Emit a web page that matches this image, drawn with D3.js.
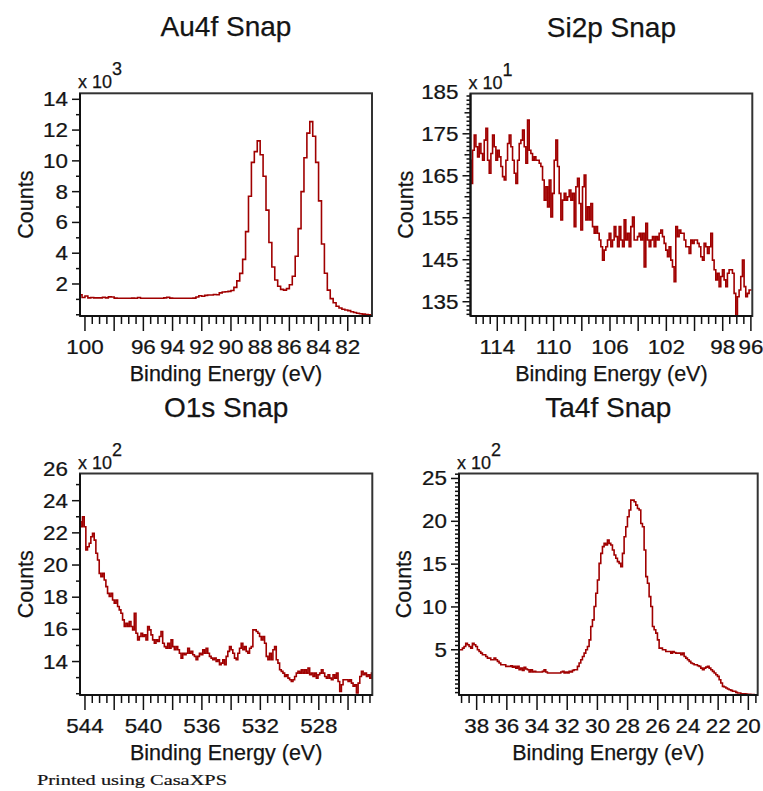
<!DOCTYPE html>
<html>
<head>
<meta charset="utf-8">
<script src="https://cdn.jsdelivr.net/npm/d3@7/dist/d3.min.js"></script>
<style>
  html, body { margin: 0; padding: 0; background: #fff; }
  svg { display: block; }
  text { font-family: "Liberation Sans", Arial, sans-serif; fill: #141414; stroke: #141414; stroke-width: 0.25px; }
</style>
</head>
<body>
<svg id="chart" width="763" height="791"></svg>
<script>
// ---- Au 4f snapshot ----
const au4fEnergyRange = [100.3, 80.3];
const au4fCounts = [
  1300,1120,1220,1100,1120,1100,1100,1100,1140,1100,
  1160,1150,1080,1070,1070,1070,1070,1070,1080,1070,
  1120,1070,1070,1070,1070,1070,1070,1070,1070,1100,
  1140,1080,1070,1070,1070,1070,1070,1070,1070,1080,
  1150,1240,1200,1260,1280,1280,1320,1300,1420,1480,
  1500,1520,1580,1780,2200,2690,3600,5400,7700,9900,
  10600,11300,10400,9000,6800,4700,3100,2260,1850,1650,
  1600,1700,1950,2500,3800,5600,8000,10200,11800,12550,
  11600,9900,7400,4600,2700,1600,1050,780,550,440,
  360,310,270,200,150,100,70,40,20,0,-20
];
const au4fXTicks = [100, 96, 94, 92, 90, 88, 86, 84, 82];
const au4fYTicks = [2, 4, 6, 8, 10, 12, 14];

// ---- Si 2p snapshot ----
const si2pEnergyRange = [115.93, 95.95];
const si2pCounts = [
  1687,1632,1711,1747,1719,1695,1727,1703,1687,1735,
  1763,1687,1656,1703,1747,1719,1687,1711,1695,1672,
  1648,1640,1687,1727,1747,1719,1687,1656,1632,1687,
  1727,1735,1759,1719,1680,1783,1711,1703,1687,1695,
  1687,1687,1680,1672,1640,1592,1624,1576,1640,1552,
  1608,1687,1735,1672,1608,1545,1592,1608,1592,1600,
  1616,1592,1608,1529,1624,1644,1584,1521,1624,1652,
  1545,1576,1545,1584,1529,1513,1529,1513,1497,1481,
  1449,1473,1481,1497,1513,1481,1497,1529,1505,1481,
  1529,1497,1481,1545,1497,1513,1481,1529,1552,1497,
  1497,1505,1513,1497,1513,1433,1537,1497,1481,1497,
  1505,1481,1505,1497,1513,1521,1505,1489,1473,1457,
  1481,1449,1433,1398,1529,1505,1521,1513,1513,1497,
  1481,1481,1465,1497,1489,1497,1497,1489,1481,1457,
  1449,1489,1481,1465,1481,1513,1449,1426,1402,1418,
  1386,1410,1426,1402,1386,1418,1426,1426,1418,1370,
  1314,1362,1378,1410,1449,1386,1362,1370,1378,1378
];
const si2pXTicks = [114, 110, 106, 102, 98, 96];
const si2pYTicks = [135, 145, 155, 165, 175, 185];

// ---- O 1s snapshot ----
const o1sEnergyRange = [544.34, 524.34];
const o1sCounts = [
  2269,2238,2300,2238,2093,2114,2135,2176,2197,2155,
  2073,2031,1948,1928,1948,1907,1866,1824,1804,1824,
  1783,1762,1783,1742,1721,1700,1659,1618,1638,1618,
  1649,1618,1597,1700,1576,1535,1556,1576,1556,1566,
  1535,1618,1597,1566,1535,1514,1535,1525,1556,1587,
  1514,1493,1483,1514,1483,1535,1493,1473,1493,1473,
  1452,1421,1452,1442,1452,1483,1452,1463,1442,1432,
  1411,1432,1452,1442,1473,1452,1483,1452,1432,1421,
  1411,1421,1401,1411,1380,1390,1411,1380,1432,1463,
  1493,1473,1452,1421,1411,1452,1483,1514,1473,1493,
  1463,1452,1483,1493,1597,1597,1587,1576,1556,1535,
  1556,1514,1432,1411,1452,1411,1473,1493,1411,1390,
  1349,1339,1328,1307,1318,1297,1287,1276,1287,1307,
  1328,1339,1328,1349,1328,1349,1328,1359,1318,1328,
  1307,1328,1297,1318,1328,1349,1328,1307,1297,1318,
  1297,1287,1318,1297,1328,1276,1214,1256,1287,1287,
  1287,1276,1287,1266,1246,1256,1204,1266,1307,1339,
  1318,1328,1307,1318,1297,1328
];
const o1sXTicks = [544, 540, 536, 532, 528];
const o1sYTicks = [14, 16, 18, 20, 22, 24, 26];

// ---- Ta 4f snapshot ----
const ta4fEnergyRange = [39.11, 19.45];
const ta4fCounts = [
  500,500,519,539,577,558,539,519,577,558,
  539,500,480,461,442,442,422,403,403,383,
  383,403,383,364,345,325,325,325,306,306,
  306,314,298,306,286,306,267,286,259,294,
  275,267,240,267,240,248,240,240,240,240,
  248,267,240,228,228,228,228,228,228,228,
  228,240,248,228,240,228,248,240,259,267,
  267,306,345,383,422,461,500,539,616,772,
  849,1005,1160,1315,1509,1626,1704,1742,1723,1781,
  1742,1723,1665,1606,1568,1529,1509,1471,1626,1820,
  1937,2053,2131,2247,2247,2228,2189,2150,2131,1975,
  1937,1665,1354,1276,1121,1005,772,733,694,616,
  519,519,500,500,480,480,480,461,480,469,
  461,461,461,442,461,422,403,383,364,345,
  337,325,325,314,306,286,267,286,298,306,
  286,267,248,228,209,189,150,112,73,65,
  53,42,34,26,15,15,3,-5,-5,-13,
  -13,-13,-16,-20,-20,-24,-24,-28,-28
];
const ta4fXTicks = [38, 36, 34, 32, 30, 28, 26, 24, 22, 20];
const ta4fYTicks = [5, 10, 15, 20, 25];

const svg = d3.select("#chart");
const LINE = "#a00000";
const TICK_FONT = "20px";
const TICK_STRETCH = 1.12;

function toPoints(range, counts) {
  const step = (range[0] - range[1]) / (counts.length - 1);
  return counts.map((c, i) => ({ e: range[0] - i * step, c }));
}

function drawPanel(p) {
  const g = svg.append("g");
  const x = d3.scaleLinear().domain(p.xDomain).range([p.left, p.right]);
  const y = d3.scaleLinear().domain(p.yDomain).range([p.bottom, p.top]);
  const mult = Math.pow(10, p.exp);

  // title
  g.append("text")
    .attr("x", (p.left + p.right) / 2).attr("y", p.top - 57)
    .attr("text-anchor", "middle")
    .style("font-size", "28px")
    .text(p.title);

  // exponent label "x 10^n"
  const ex = g.append("text")
    .attr("x", p.left - 2).attr("y", p.top - 5)
    .style("font-size", "18px");
  ex.append("tspan").text("x 10");
  ex.append("tspan").attr("dy", -13).text(p.exp);

  // clipped spectrum
  const clipId = "clip-" + p.key;
  svg.append("clipPath").attr("id", clipId)
    .append("rect")
    .attr("x", p.left).attr("y", p.top)
    .attr("width", p.right - p.left).attr("height", p.bottom - p.top);

  const line = d3.line()
    .x(d => x(d.e)).y(d => y(d.c))
    .curve(d3.curveStep);
  g.append("path")
    .datum(toPoints(p.range, p.counts))
    .attr("clip-path", `url(#${clipId})`)
    .attr("fill", "none")
    .attr("stroke", LINE)
    .attr("stroke-width", 1.6)
    .attr("d", line);

  // y ticks
  const yMinor = p.yMinor * mult;
  const y0 = Math.ceil(p.yDomain[0] / yMinor), y1 = Math.floor(p.yDomain[1] / yMinor);
  const labelled = new Set(p.yTicks.map(v => Math.round(v * mult)));
  for (let k = y0; k <= y1; k++) {
    const v = k * yMinor;
    const isMajor = labelled.has(Math.round(v));
    const len = isMajor ? 8 : (p.yMid && Math.round(v) % (p.yMid * mult) === 0 ? 6 : 4);
    g.append("line")
      .attr("x1", p.left - len).attr("x2", p.left)
      .attr("y1", y(v)).attr("y2", y(v))
      .attr("stroke", "#111").attr("stroke-width", 1.5);
  }
  g.selectAll(null).data(p.yTicks).enter().append("text")
    .attr("transform", d => `translate(${p.left - 12},${y(d * mult)}) scale(${TICK_STRETCH},1)`)
    .attr("dy", "0.35em")
    .attr("text-anchor", "end")
    .style("font-size", TICK_FONT)
    .text(d => d);

  // x ticks
  const xs = d3.range(Math.ceil(Math.min(...p.xDomain) / 0.5), Math.floor(Math.max(...p.xDomain) / 0.5) + 1)
    .map(k => k * 0.5);
  xs.forEach(v => {
    const isMajor = Math.abs(v / 2 - Math.round(v / 2)) < 1e-6;
    g.append("line")
      .attr("x1", x(v)).attr("x2", x(v))
      .attr("y1", p.bottom).attr("y2", p.bottom + (isMajor ? 15 : 8))
      .attr("stroke", "#111").attr("stroke-width", 1.5);
  });
  g.selectAll(null).data(p.xTicks).enter().append("text")
    .attr("transform", d => `translate(${x(d)},${p.bottom + 31}) scale(${TICK_STRETCH},1)`)
    .attr("dy", "0.35em")
    .attr("text-anchor", "middle")
    .style("font-size", TICK_FONT)
    .text(d => d);

  // frame
  g.append("rect")
    .attr("x", p.left).attr("y", p.top)
    .attr("width", p.right - p.left).attr("height", p.bottom - p.top)
    .attr("fill", "none").attr("stroke", "#333").attr("stroke-width", 2);
  g.append("line").attr("x1", p.left).attr("x2", p.left)
    .attr("y1", p.top).attr("y2", p.bottom).attr("stroke", "#111").attr("stroke-width", 2);
  g.append("line").attr("x1", p.left).attr("x2", p.right)
    .attr("y1", p.bottom).attr("y2", p.bottom).attr("stroke", "#111").attr("stroke-width", 2);

  // axis titles
  g.append("text")
    .attr("x", (p.left + p.right) / 2).attr("y", p.bottom + 65)
    .attr("text-anchor", "middle")
    .style("font-size", "21.5px")
    .text("Binding Energy (eV)");
  g.append("text")
    .attr("transform", `translate(${p.countsX},${(p.top + p.bottom) / 2}) rotate(-90)`)
    .attr("text-anchor", "middle")
    .attr("dy", "0.35em")
    .style("font-size", "21.5px")
    .text("Counts");
}

drawPanel({
  key: "au4f", title: "Au4f Snap", exp: 3,
  left: 80, right: 372, top: 93.3, bottom: 316, countsX: 25,
  xDomain: [100.34, 80.34], yDomain: [-80, 14390],
  range: au4fEnergyRange, counts: au4fCounts,
  xTicks: au4fXTicks, yTicks: au4fYTicks, yMinor: 1
});
drawPanel({
  key: "si2p", title: "Si2p Snap", exp: 1,
  left: 470.5, right: 752.3, top: 93.5, bottom: 316, countsX: 405,
  xDomain: [115.9, 95.9], yDomain: [1316, 1846],
  range: si2pEnergyRange, counts: si2pCounts,
  xTicks: si2pXTicks, yTicks: si2pYTicks, yMinor: 1, yMid: 5
});
drawPanel({
  key: "o1s", title: "O1s Snap", exp: 2,
  left: 80, right: 372.3, top: 473.5, bottom: 695, countsX: 25,
  xDomain: [544.34, 524.34], yDomain: [1192, 2569],
  range: o1sEnergyRange, counts: o1sCounts,
  xTicks: o1sXTicks, yTicks: o1sYTicks, yMinor: 1
});
drawPanel({
  key: "ta4f", title: "Ta4f Snap", exp: 2,
  left: 459, right: 757.7, top: 473.5, bottom: 695, countsX: 403,
  xDomain: [39.17, 19.38], yDomain: [-28, 2558],
  range: ta4fEnergyRange, counts: ta4fCounts,
  xTicks: ta4fXTicks, yTicks: ta4fYTicks, yMinor: 0.5
});

// footer
svg.append("text")
  .attr("x", 37).attr("y", 785)
  .attr("textLength", 190).attr("lengthAdjust", "spacingAndGlyphs")
  .style("font-family", "'Liberation Serif', 'Times New Roman', serif")
  .style("font-size", "15px")
  .style("stroke-width", "0.2px")
  .text("Printed using CasaXPS");
</script>
</body>
</html>
